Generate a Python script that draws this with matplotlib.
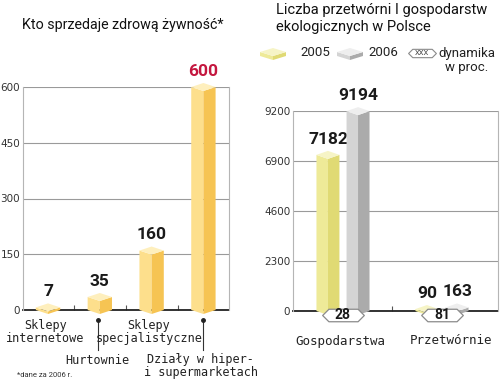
import matplotlib.pyplot as plt
from matplotlib.patches import Polygon
from matplotlib.path import Path

# left chart: who sells healthy food (2006)
shops = ["Sklepy\ninternetowe", "Hurtownie", "Sklepy\nspecjalistyczne",
         "Działy w hiper-\ni supermarketach"]
shop_counts = [7, 35, 160, 600]
shop_ticks = [0, 150, 300, 450, 600]

# right chart: organic processors and farms in Poland
kinds = ["Gospodarstwa", "Przetwórnie"]
count_2005 = [7182, 90]
count_2006 = [9194, 163]
growth = [28, 81]
kind_ticks = [0, 2300, 4600, 6900, 9200]

W, H = 500, 380
fig = plt.figure(figsize=(W / 100, H / 100), dpi=100)


def px_box(x0, y0, x1, y1):
    # pixel box (origin top left) -> figure fraction
    return [x0 / W, 1 - y1 / H, (x1 - x0) / W, (y1 - y0) / H]


def iso_bar(ax, x, v, hw, d, colors, z=3):
    left, right, top = colors
    faces = [
        ([(x - hw, 0), (x, -d), (x, v - d), (x - hw, v)], left),
        ([(x, -d), (x + hw, 0), (x + hw, v), (x, v - d)], right),
        ([(x - hw, v), (x, v - d), (x + hw, v), (x, v + d)], top),
    ]
    for pts, c in faces:
        ax.add_patch(Polygon(pts, closed=True, fc=c, ec="none", zorder=z, clip_on=False))


def style_axes(ax, ticks, minor):
    ax.set_ylim(0, ticks[-1])
    ax.set_yticks(ticks)
    ax.set_xticks([])
    ax.set_xticks(minor, minor=True)
    ax.yaxis.grid(True, color="#9a9a9a", lw=0.8)
    ax.set_axisbelow(True)
    ax.spines["top"].set_visible(False)
    for s in ["left", "right"]:
        ax.spines[s].set_color("#b5b5b5")
        ax.spines[s].set_linewidth(0.8)
    ax.spines["bottom"].set_color("#222222")
    ax.spines["bottom"].set_linewidth(1.3)
    ax.spines["bottom"].set_zorder(2)
    ax.tick_params(axis="y", length=0, pad=2, labelsize=7.5, labelcolor="#333333")
    ax.tick_params(axis="x", which="minor", direction="in", length=3.5,
                   width=0.8, color="#555555", labelbottom=False)
    ax.set_facecolor("none")


hexagon = Path([(-1, 0), (-0.7, 0.3), (0.7, 0.3), (1, 0), (0.7, -0.3), (-0.7, -0.3), (-1, 0)],
               [Path.MOVETO] + [Path.LINETO] * 5 + [Path.CLOSEPOLY])

mono = "DejaVu Sans Mono"
bold = dict(family="Roboto", fontweight="bold", fontsize=12.5)

# ---------------- left chart ----------------
ax1 = fig.add_axes(px_box(23, 87, 229, 310))
ax1.set_xlim(-0.483, 3.494)
style_axes(ax1, shop_ticks, [0.5, 1.5, 2.5])
d1 = 4 * shop_ticks[-1] / 223
gold = ("#fddf8c", "#f6c453", "#feefbd")
for i, v in enumerate(shop_counts):
    iso_bar(ax1, i, v, 0.235, d1, gold)
    ax1.annotate(str(v), (i, v), xytext=(0, 6), textcoords="offset points",
                 ha="center", va="bottom",
                 color="#c4173f" if v == max(shop_counts) else "#1a1a1a", **bold)

xt1 = ax1.get_xaxis_transform()
label_y = {0: -0.04, 1: -0.225, 2: -0.04, 3: -0.25}
for i, lab in enumerate(shops):
    va = "top" if label_y[i] > -0.1 else "center"
    ax1.text(i - 0.05, label_y[i], lab, transform=xt1, ha="center", va=va,
             family=mono, fontsize=8.5, color="#222222", linespacing=1.0)
for i in [1, 3]:
    ax1.plot([i - 0.04 * (i == 1)] * 2, [-0.045, -0.18], color="#333333", lw=0.8,
             transform=xt1, clip_on=False)
    ax1.plot([i - 0.04 * (i == 1)], [-0.045], "o", ms=2.5, color="#222222",
             transform=xt1, clip_on=False)

# ---------------- right chart ----------------
ax2 = fig.add_axes(px_box(293, 111, 498, 311))
ax2.set_xlim(-0.505, 1.566)
style_axes(ax2, kind_ticks, [0.5])
d2 = 4 * kind_ticks[-1] / 200
pale = ("#eeea98", "#e0da74", "#f6f4c6")
grey = ("#d4d4d4", "#ababab", "#eeeeee")
for i in range(len(kinds)):
    for off, vals, cols in [(-0.152, count_2005, pale), (0.152, count_2006, grey)]:
        iso_bar(ax2, i + off, vals[i], 0.116, d2, cols)
        ax2.annotate(str(vals[i]), (i + off, vals[i]), xytext=(0, 6),
                     textcoords="offset points", ha="center", va="bottom",
                     color="#1a1a1a", **bold)

xt2 = ax2.get_xaxis_transform()
for i, (k, g) in enumerate(zip(kinds, growth)):
    ax2.plot([i], [-0.018], marker=hexagon, ms=30, mfc="white", mec="#8a8a8a",
             mew=0.9, transform=xt2, clip_on=False, zorder=5)
    ax2.text(i, -0.02, str(g), transform=xt2, ha="center", va="center",
             family="Roboto", fontweight="bold", fontsize=10, color="#1a1a1a", zorder=6)
    ax2.text(i - 0.03 + 0.12 * i, -0.15, k, transform=xt2, ha="center", va="center",
             family=mono, fontsize=9, color="#222222")

# ---------------- titles, legend, footnote ----------------
ov = fig.add_axes([0, 0, 1, 1])
ov.set_xlim(0, W)
ov.set_ylim(H, 0)
ov.axis("off")

ov.text(22, 25, "Kto sprzedaje zdrową żywność*", ha="left", va="center",
        family="Roboto", fontsize=10.3, color="#111111")
ov.text(276, 3, "Liczba przetwórni I gospodarstw\nekologicznych w Polsce", ha="left",
        va="top", family="Roboto", fontsize=10.5, color="#111111", linespacing=1.25)


def slab(cx, cy, hw, d, t, colors):
    left, right, top = colors
    ov.add_patch(Polygon([(cx - hw, cy), (cx, cy + d), (cx, cy + d + t), (cx - hw, cy + t)],
                         fc=left, ec="none"))
    ov.add_patch(Polygon([(cx, cy + d), (cx + hw, cy), (cx + hw, cy + t), (cx, cy + d + t)],
                         fc=right, ec="none"))
    ov.add_patch(Polygon([(cx - hw, cy), (cx, cy + d), (cx + hw, cy), (cx, cy - d)],
                         fc=top, ec="none"))


slab(273, 52, 13, 4, 4, pale)
ov.text(300, 53, "2005", ha="left", va="center", family="Roboto", fontsize=9.5, color="#222222")
slab(350, 52, 13, 4, 4, grey)
ov.text(368, 53, "2006", ha="left", va="center", family="Roboto", fontsize=9.5, color="#222222")
ov.plot([422], [53], marker=hexagon, ms=20, mfc="white", mec="#8a8a8a", mew=0.8)
ov.text(422, 53, "XXX", ha="center", va="center", family="Roboto", fontsize=5.5, color="#444444")
ov.text(467, 60, "dynamika\nw proc.", ha="center", va="center", family="Roboto",
        fontsize=9.5, color="#222222", linespacing=1.1)

ov.text(17, 375, "*dane za 2006 r.", ha="left", va="center", family="Roboto",
        fontsize=5.5, color="#333333")

fig.savefig("out.png", dpi=100)
